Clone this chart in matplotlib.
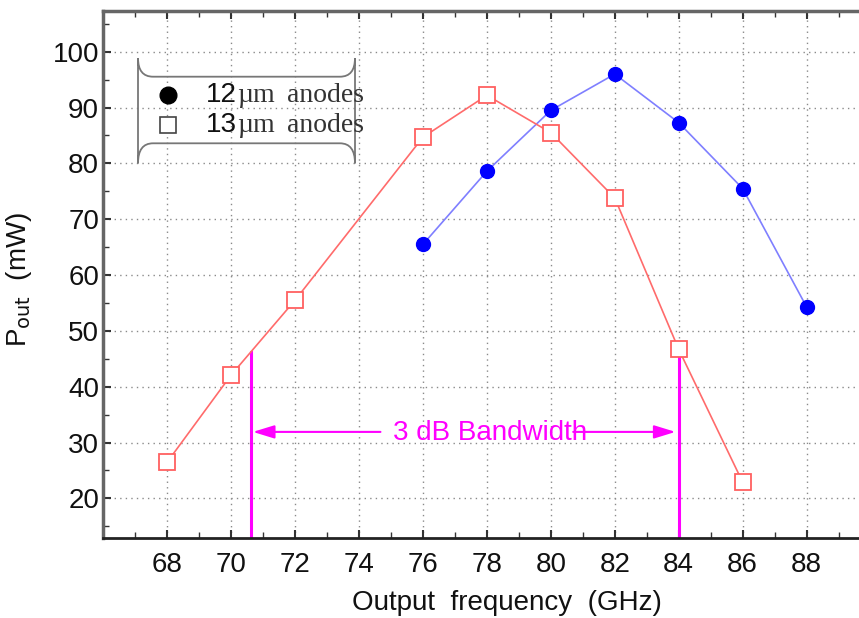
import matplotlib
matplotlib.use("Agg")
import matplotlib.pyplot as plt
from matplotlib.path import Path
from matplotlib.patches import PathPatch
from matplotlib.ticker import MultipleLocator

# data
freq_12 = [76, 78, 80, 82, 84, 86, 88]
pout_12 = [65.5, 78.6, 89.5, 96.0, 87.3, 75.5, 54.3]

freq_13 = [68, 70, 72, 76, 78, 80, 82, 84, 86]
pout_13 = [26.5, 42.1, 55.5, 84.7, 92.2, 85.5, 73.8, 46.7, 22.9]

# 3 dB band edges
bw_low = 70.63
bw_high = 84.0
bw_level = 46.3
bw_arrow_y = 31.9

W, H = 859, 618
plt.rcParams['font.family'] = ['Liberation Sans', 'DejaVu Sans']
FS = 20

fig = plt.figure(figsize=(W / 100, H / 100), dpi=100)


def fp(x, y):
    # pixel (from top-left) -> figure fraction
    return x / W, 1 - y / H


left, top, right, bottom = 103.3, 11, 859, 538.3
ax = fig.add_axes([left / W, 1 - bottom / H, (right - left) / W, (bottom - top) / H])

ax.set_xlim(66, 89.64)
ax.set_ylim(12.84, 107.3)

ax.xaxis.set_minor_locator(MultipleLocator(1))
ax.yaxis.set_minor_locator(MultipleLocator(5))
ax.set_xticks(range(68, 89, 2))
ax.set_yticks(range(20, 101, 10))

ax.grid(True, which='major', color='#8a8a8a', linestyle=(0, (1, 3)), linewidth=1)
ax.tick_params(which='both', direction='in', top=True, right=False, labelsize=FS,
               color='#333333', labelcolor='#111111')
ax.tick_params(which='major', length=6, width=1.5)
ax.tick_params(which='minor', length=4, width=1)
ax.tick_params(axis='x', pad=10)
ax.tick_params(axis='y', pad=3)

for side in ['left', 'top']:
    ax.spines[side].set_color('#666666')
    ax.spines[side].set_linewidth(2.5)
ax.spines['bottom'].set_color('#222222')
ax.spines['bottom'].set_linewidth(2)
ax.spines['right'].set_visible(False)

# curves
ax.plot(freq_12, pout_12, color='#7f7fff', linewidth=1.2, zorder=3)
ax.plot(freq_12, pout_12, linestyle='none', marker='o', markersize=10,
        color='#0000ff', zorder=4)
ax.plot(freq_13, pout_13, color='#ff6b6b', linewidth=1.2, zorder=3)
ax.plot(freq_13, pout_13, linestyle='none', marker='s', markersize=11.5,
        markerfacecolor='white', markeredgecolor='#ff6060', markeredgewidth=1.3, zorder=4)

# 3 dB bandwidth markers
mag = '#ff00ff'
ax.plot([bw_low, bw_low], [0, bw_level], color=mag, linewidth=2.2, zorder=2)
ax.plot([bw_high, bw_high], [0, bw_level], color=mag, linewidth=2.2, zorder=2)
arrow = dict(arrowstyle='-|>,head_length=1.3,head_width=0.4', color=mag, lw=1.5,
             shrinkA=0, shrinkB=0)
ax.annotate('', xy=(bw_low + 0.05, bw_arrow_y), xytext=(74.67, bw_arrow_y), arrowprops=arrow)
ax.annotate('', xy=(bw_high - 0.1, bw_arrow_y), xytext=(80.7, bw_arrow_y), arrowprops=arrow)
ax.text(78.1, 30.45, '3 dB Bandwidth', color=mag, fontsize=FS, ha='center', va='baseline')

# axis labels
ax.set_xlabel('Output  frequency  (GHz)', fontsize=FS, color='#111111')
ax.xaxis.set_label_coords((507 - left) / (right - left), -0.098)
ax.set_ylabel(r'P$_{\mathrm{out}}$  (mW)', fontsize=FS, color='#111111')
ax.yaxis.set_label_coords(-0.092, 0.49)

# legend drawn by hand (bracket-shaped frame)
verts = [fp(138, 58), fp(138, 76.7), fp(153, 76.7), fp(340, 76.7), fp(355, 76.7), fp(355, 58),
         fp(138, 163.3), fp(138, 143.3), fp(153, 143.3), fp(340, 143.3), fp(355, 143.3), fp(355, 163.3),
         fp(138, 58), fp(138, 163.3), fp(355, 58), fp(355, 163.3)]
codes = [Path.MOVETO, Path.CURVE3, Path.CURVE3, Path.LINETO, Path.CURVE3, Path.CURVE3,
         Path.MOVETO, Path.CURVE3, Path.CURVE3, Path.LINETO, Path.CURVE3, Path.CURVE3,
         Path.MOVETO, Path.LINETO, Path.MOVETO, Path.LINETO]
fig.add_artist(PathPatch(Path(verts, codes), transform=fig.transFigure, facecolor='none',
                         edgecolor='#777777', linewidth=1.3))

fig.add_artist(plt.Line2D([fp(168, 95)[0]], [fp(168, 95)[1]], marker='o', markersize=12,
                          color='black', transform=fig.transFigure))
fig.add_artist(plt.Line2D([fp(168, 124.5)[0]], [fp(168, 124.5)[1]], marker='s', markersize=11,
                          markerfacecolor='white', markeredgecolor='#444444',
                          markeredgewidth=1.2, transform=fig.transFigure))
for yy, num in [(95, '12'), (124.5, '13')]:
    fig.text(*fp(206, yy), num, fontsize=FS, va='center', ha='left', color='#111111')
    fig.text(*fp(237, yy + 1), '\u00b5m', fontsize=FS, va='center', ha='left',
             family='Liberation Serif', color='#333333')
    fig.text(*fp(287, yy + 1), 'anodes', fontsize=FS, va='center', ha='left',
             family='Liberation Serif', color='#333333')

fig.savefig('out.png', dpi=100)
